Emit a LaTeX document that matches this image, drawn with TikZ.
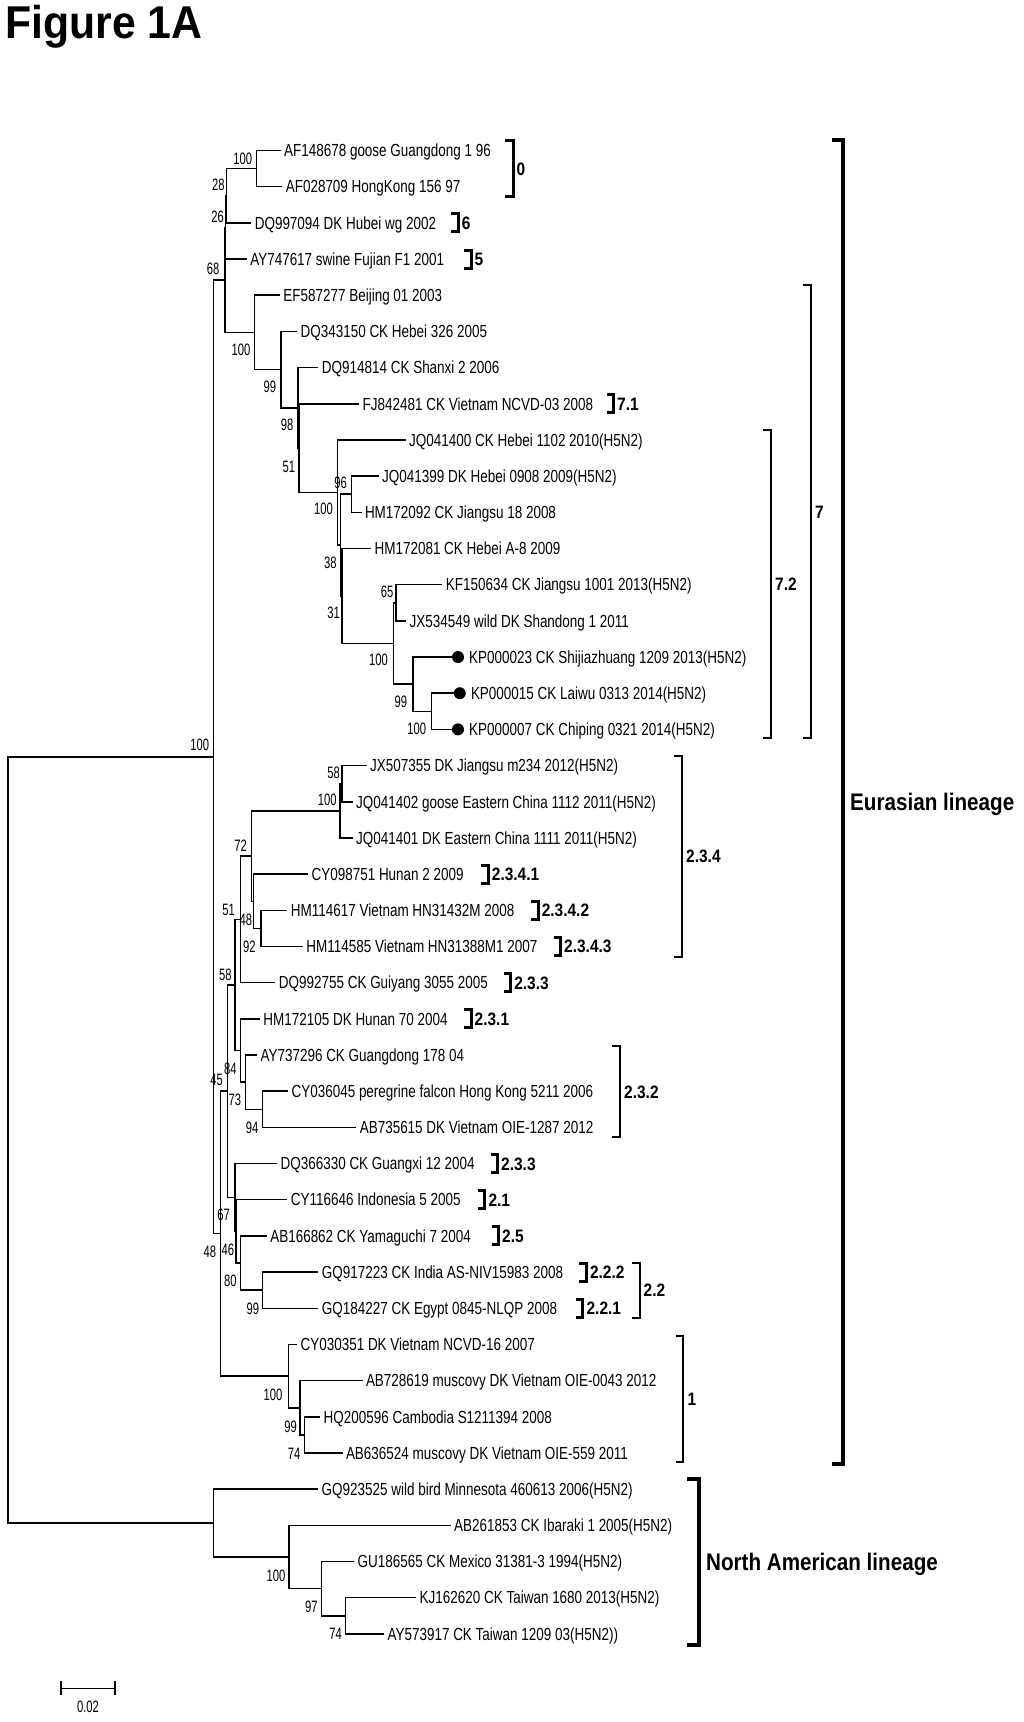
\documentclass[tikz,border=0pt]{standalone}
\usepackage{fontspec}
\setmainfont{Liberation Sans}
\newfontfamily\leaffont{Liberation Sans}[FakeStretch=0.77]
\newfontfamily\bsfont{Liberation Sans}[FakeStretch=0.68]
\newfontfamily\cladefont{Liberation Sans}[FakeStretch=0.86]
\newfontfamily\titlefont{Liberation Sans}[FakeStretch=0.93]
\usetikzlibrary{calc}
\begin{document}
\begin{tikzpicture}[x=1pt,y=-1pt,
  br/.style={line width=1.5pt, line join=miter, line cap=rect},
  leaf/.style={anchor=west, inner sep=0pt, text height=12.5pt, text depth=0pt, font=\leaffont\fontsize{17.5}{19}\selectfont},
  bs/.style={anchor=east, inner sep=0pt, text height=11.8pt, text depth=0pt, font=\bsfont\fontsize{16.5}{18}\selectfont},
  clade/.style={anchor=west, inner sep=0pt, text height=12.9pt, text depth=0pt, font=\cladefont\bfseries\fontsize{18}{20}\selectfont},
  lineage/.style={anchor=west, inner sep=0pt, text height=17.2pt, text depth=0pt, font=\cladefont\bfseries\fontsize{24}{27}\selectfont},
  sbr/.style={line width=3pt, line join=miter},
  mbr/.style={line width=2pt, line join=miter},
  lbr/.style={line width=4pt, line join=miter},
  dotmark/.style={circle, fill=black, draw=none, inner sep=0pt, minimum size=12pt}
]
\fill[white] (0,0) rectangle (1024,1722);
\useasboundingbox (0,0) rectangle (1024,1722);

% title
\node[anchor=base west, inner sep=0pt, font=\titlefont\bfseries\fontsize{46}{50}\selectfont] (title) at (5,38) {Figure 1A};

% leaves
\foreach \i/\x/\t in {
 1/279.9/{AF148678 goose Guangdong 1 96},
 2/281.6/{AF028709 HongKong 156 97},
 3/250.6/{DQ997094 DK Hubei wg 2002},
 4/246.1/{AY747617 swine Fujian F1 2001},
 5/279.2/{EF587277 Beijing 01 2003},
 6/296.4/{DQ343150 CK Hebei 326 2005},
 7/317.7/{DQ914814 CK Shanxi 2 2006},
 8/358.5/{FJ842481 CK Vietnam NCVD-03 2008},
 9/405/{JQ041400 CK Hebei 1102 2010(H5N2)},
 10/378/{JQ041399 DK Hebei 0908 2009(H5N2)},
 11/360.8/{HM172092 CK Jiangsu 18 2008},
 12/370.4/{HM172081 CK Hebei A-8 2009},
 13/441.7/{KF150634 CK Jiangsu 1001 2013(H5N2)},
 14/405.5/{JX534549 wild DK Shandong 1 2011},
 18/366/{JX507355 DK Jiangsu m234 2012(H5N2)},
 19/352/{JQ041402 goose Eastern China 1112 2011(H5N2)},
 20/352/{JQ041401 DK Eastern China 1111 2011(H5N2)},
 21/307.4/{CY098751 Hunan 2 2009},
 22/286.7/{HM114617 Vietnam HN31432M 2008},
 23/302.2/{HM114585 Vietnam HN31388M1 2007},
 24/274.7/{DQ992755 CK Guiyang 3055 2005},
 25/259.2/{HM172105 DK Hunan 70 2004},
 26/256.4/{AY737296 CK Guangdong 178 04},
 27/287.4/{CY036045 peregrine falcon Hong Kong 5211 2006},
 28/355.6/{AB735615 DK Vietnam OIE-1287 2012},
 29/276.4/{DQ366330 CK Guangxi 12 2004},
 30/286.7/{CY116646 Indonesia 5 2005},
 31/266.1/{AB166862 CK Yamaguchi 7 2004},
 32/317.7/{GQ917223 CK India AS-NIV15983 2008},
 33/317.7/{GQ184227 CK Egypt 0845-NLQP 2008},
 34/296.4/{CY030351 DK Vietnam NCVD-16 2007},
 35/361.8/{AB728619 muscovy DK Vietnam OIE-0043 2012},
 36/319.5/{HQ200596 Cambodia S1211394 2008},
 37/341.8/{AB636524 muscovy DK Vietnam OIE-559 2011},
 38/317.5/{GQ923525 wild bird Minnesota 460613 2006(H5N2)},
 39/450/{AB261853 CK Ibaraki 1 2005(H5N2)},
 40/353.5/{GU186565 CK Mexico 31381-3 1994(H5N2)},
 41/415.5/{KJ162620 CK Taiwan 1680 2013(H5N2)},
 42/383.4/{AY573917 CK Taiwan 1209 03(H5N2))}}
{
  \coordinate (l\i) at (\x,{150.5+(\i-1)*36.18});
  \node[leaf] (t\i) at ([xshift=4pt]l\i) {\t};
}
% leaves with dots
\foreach \i/\x/\t in {
 15/452/{KP000023 CK Shijiazhuang 1209 2013(H5N2)},
 16/453.8/{KP000015 CK Laiwu 0313 2014(H5N2)},
 17/452/{KP000007 CK Chiping 0321 2014(H5N2)}}
{
  \coordinate (l\i) at (\x,{150.5+(\i-1)*36.18});
  \node[dotmark] (d\i) at ([xshift=6pt]l\i) {};
  \node[leaf] (t\i) at ([xshift=17pt]l\i) {\t};
}

% internal nodes
\coordinate (A) at (256.4,168.59);
\coordinate (P28) at (226.3,195.73);
\coordinate (P26) at (225.5,227.38);
\coordinate (B) at (224.8,279.9);
\coordinate (C) at (254.7,332.43);
\coordinate (D) at (280.9,369.63);
\coordinate (D2) at (298.1,407.86);
\coordinate (D3) at (299.2,448.14);
\coordinate (M) at (337.7,492.52);
\coordinate (N) at (340.6,545.09);
\coordinate (X) at (341.8,595.97);
\coordinate (P96) at (351.5,494.21);
\coordinate (Q) at (393.5,643.45);
\coordinate (R) at (395.9,602.75);
\coordinate (S) at (413.1,684.16);
\coordinate (T) at (431.4,711.29);
\coordinate (E) at (213.5,756.77);
\coordinate (V1) at (341.8,783.65);
\coordinate (V) at (340.1,810.79);
\coordinate (Z) at (260.9,928.37);
\coordinate (W) at (253.3,901.24);
\coordinate (U) at (251.6,856.02);
\coordinate (Y) at (240.3,919.33);
\coordinate (BB) at (262.6,1109.27);
\coordinate (AA) at (245.4,1082.14);
\coordinate (AB) at (240.3,1050.48);
\coordinate (JJ) at (235.1,984.9);
\coordinate (DD) at (262.6,1290.17);
\coordinate (CC) at (240.3,1263.04);
\coordinate (II) at (235.8,1231.38);
\coordinate (HH) at (235.1,1197.46);
\coordinate (G) at (227.7,1091.18);
\coordinate (J) at (304.7,1434.89);
\coordinate (I) at (299.8,1407.76);
\coordinate (H) at (288.5,1376.1);
\coordinate (F) at (220.6,1233.64);
\coordinate (L3) at (345.3,1615.79);
\coordinate (L2) at (321.4,1588.66);
\coordinate (L) at (289,1557);
\coordinate (K) at (213.5,1523.08);
\coordinate (root) at (8,1139.93);

% branches
\foreach \p/\c in {A/l1, A/l2, P28/A, P28/l3, P26/P28, P26/l4, B/P26, B/C,
  C/l5, C/D, D/l6, D/D2, D2/l7, D2/D3, D3/l8, D3/M, M/l9, M/N, N/P96, N/X,
  P96/l10, P96/l11, X/l12, X/Q, Q/R, Q/S, R/l13, R/l14, S/l15, S/T, T/l16, T/l17,
  E/B, E/F, V1/l18, V1/l19, V/V1, V/l20, Z/l22, Z/l23, W/l21, W/Z, U/V, U/W,
  Y/U, Y/l24, BB/l27, BB/l28, AA/l26, AA/BB, AB/l25, AB/AA, JJ/Y, JJ/AB,
  DD/l32, DD/l33, CC/l31, CC/DD, II/l30, II/CC, HH/l29, HH/II, G/JJ, G/HH,
  J/l36, J/l37, I/l35, I/J, H/l34, H/I, F/G, F/H,
  L3/l41, L3/l42, L2/l40, L2/L3, L/l39, L/L2, K/l38, K/L, root/E, root/K}
{
  \draw[br] (\p) |- (\c);
}

% bootstrap values
\foreach \x/\y/\t [count=\k] in {
 252.3/158.3/100, 224.8/185/28, 224/216.7/26, 219.6/269/68, 250.6/350/100,
 276.4/386.7/99, 293.6/425/98, 295.4/466.7/51, 347/483/96, 333/509/100,
 336.7/562.7/38, 340/613/31, 393.5/591.7/65, 388/660/100, 407.3/701.7/99,
 426.2/728.3/100, 209.3/745/100, 340/772.7/58, 336.7/800/100, 247.1/846/72,
 235.1/910/51, 252.3/920/48, 255.8/946.7/92, 231.7/975/58, 236.8/1068.3/84,
 241.3/1100/73, 258.5/1127.3/94, 223/1080/45, 230/1215/67, 234.4/1250/46,
 236.8/1280.7/80, 259.2/1308.3/99, 216.2/1251.7/48, 282.6/1395/100,
 297/1426.7/99, 300.5/1453.3/74, 285.6/1576/100, 317.7/1606.7/97, 342/1633.3/74}
{
  \node[bs] (b\k) at (\x,\y) {\t};
}

% single-row clade brackets
\foreach \x/\r/\t in {458.2/3/6, 471/4/5, 613.5/8/7.1, 488.2/21/2.3.4.1,
  538.1/22/2.3.4.2, 560.5/23/2.3.4.3, 510.6/24/2.3.3, 471/25/2.3.1,
  497.5/29/2.3.3, 484.8/30/2.1, 498.5/31/2.5, 586.3/32/2.2.2, 582.9/33/2.2.1}
{
  \draw[sbr] (\x-7,{150.5+(\r-1)*36.18-9}) -- (\x,{150.5+(\r-1)*36.18-9})
     -- (\x,{150.5+(\r-1)*36.18+9}) -- (\x-7,{150.5+(\r-1)*36.18+9});
  \node[clade] (c\r) at (\x+3.5,{150.5+(\r-1)*36.18}) {\t};
}

% multi-row brackets
\draw[sbr] (505.4,140.7) -- (513.3,140.7) -- (513.3,196.7) -- (505.4,196.7);
\node[clade] (c0) at (516.5,168.6) {0};

\draw[mbr] (763,429.7) -- (770.7,429.7) -- (770.7,738.4) -- (763,738.4);
\node[clade] (c72) at (775,584.3) {7.2};

\draw[mbr] (802.7,284.8) -- (810.7,284.8) -- (810.7,738.4) -- (802.7,738.4);
\node[clade] (c7) at (815,511.8) {7};

\draw[mbr] (673.7,756) -- (681.7,756) -- (681.7,956.5) -- (673.7,956.5);
\node[clade] (c234) at (686,856) {2.3.4};

\draw[mbr] (612,1046.2) -- (620,1046.2) -- (620,1136.8) -- (612,1136.8);
\node[clade] (c232) at (624,1092) {2.3.2};

\draw[mbr] (632,1263) -- (640,1263) -- (640,1318.4) -- (632,1318.4);
\node[clade] (c22) at (643.5,1290.3) {2.2};

\draw[mbr] (676,1336.2) -- (683.3,1336.2) -- (683.3,1462.2) -- (676,1462.2);
\node[clade] (c1) at (687.3,1399) {1};

\draw[lbr] (831.7,140.4) -- (842.7,140.4) -- (842.7,1463.8) -- (831.7,1463.8);
\node[lineage] (eur) at (850,802) {Eurasian lineage};

\draw[lbr] (687.3,1479) -- (699.3,1479) -- (699.3,1645) -- (687.3,1645);
\node[lineage] (na) at (706,1561.7) {North American lineage};

% scale bar
\coordinate (sb1) at (61,1688.3);
\coordinate (sb2) at (114.8,1688.3);
\draw[line width=1.5pt] (sb1) -- (sb2);
\draw[line width=1.5pt] ([yshift=7pt]sb1) -- ([yshift=-7pt]sb1);
\draw[line width=1.5pt] ([yshift=7pt]sb2) -- ([yshift=-7pt]sb2);
\node[bs, anchor=center] (sbl) at (88,1706.7) {0.02};
\end{tikzpicture}
\end{document}
